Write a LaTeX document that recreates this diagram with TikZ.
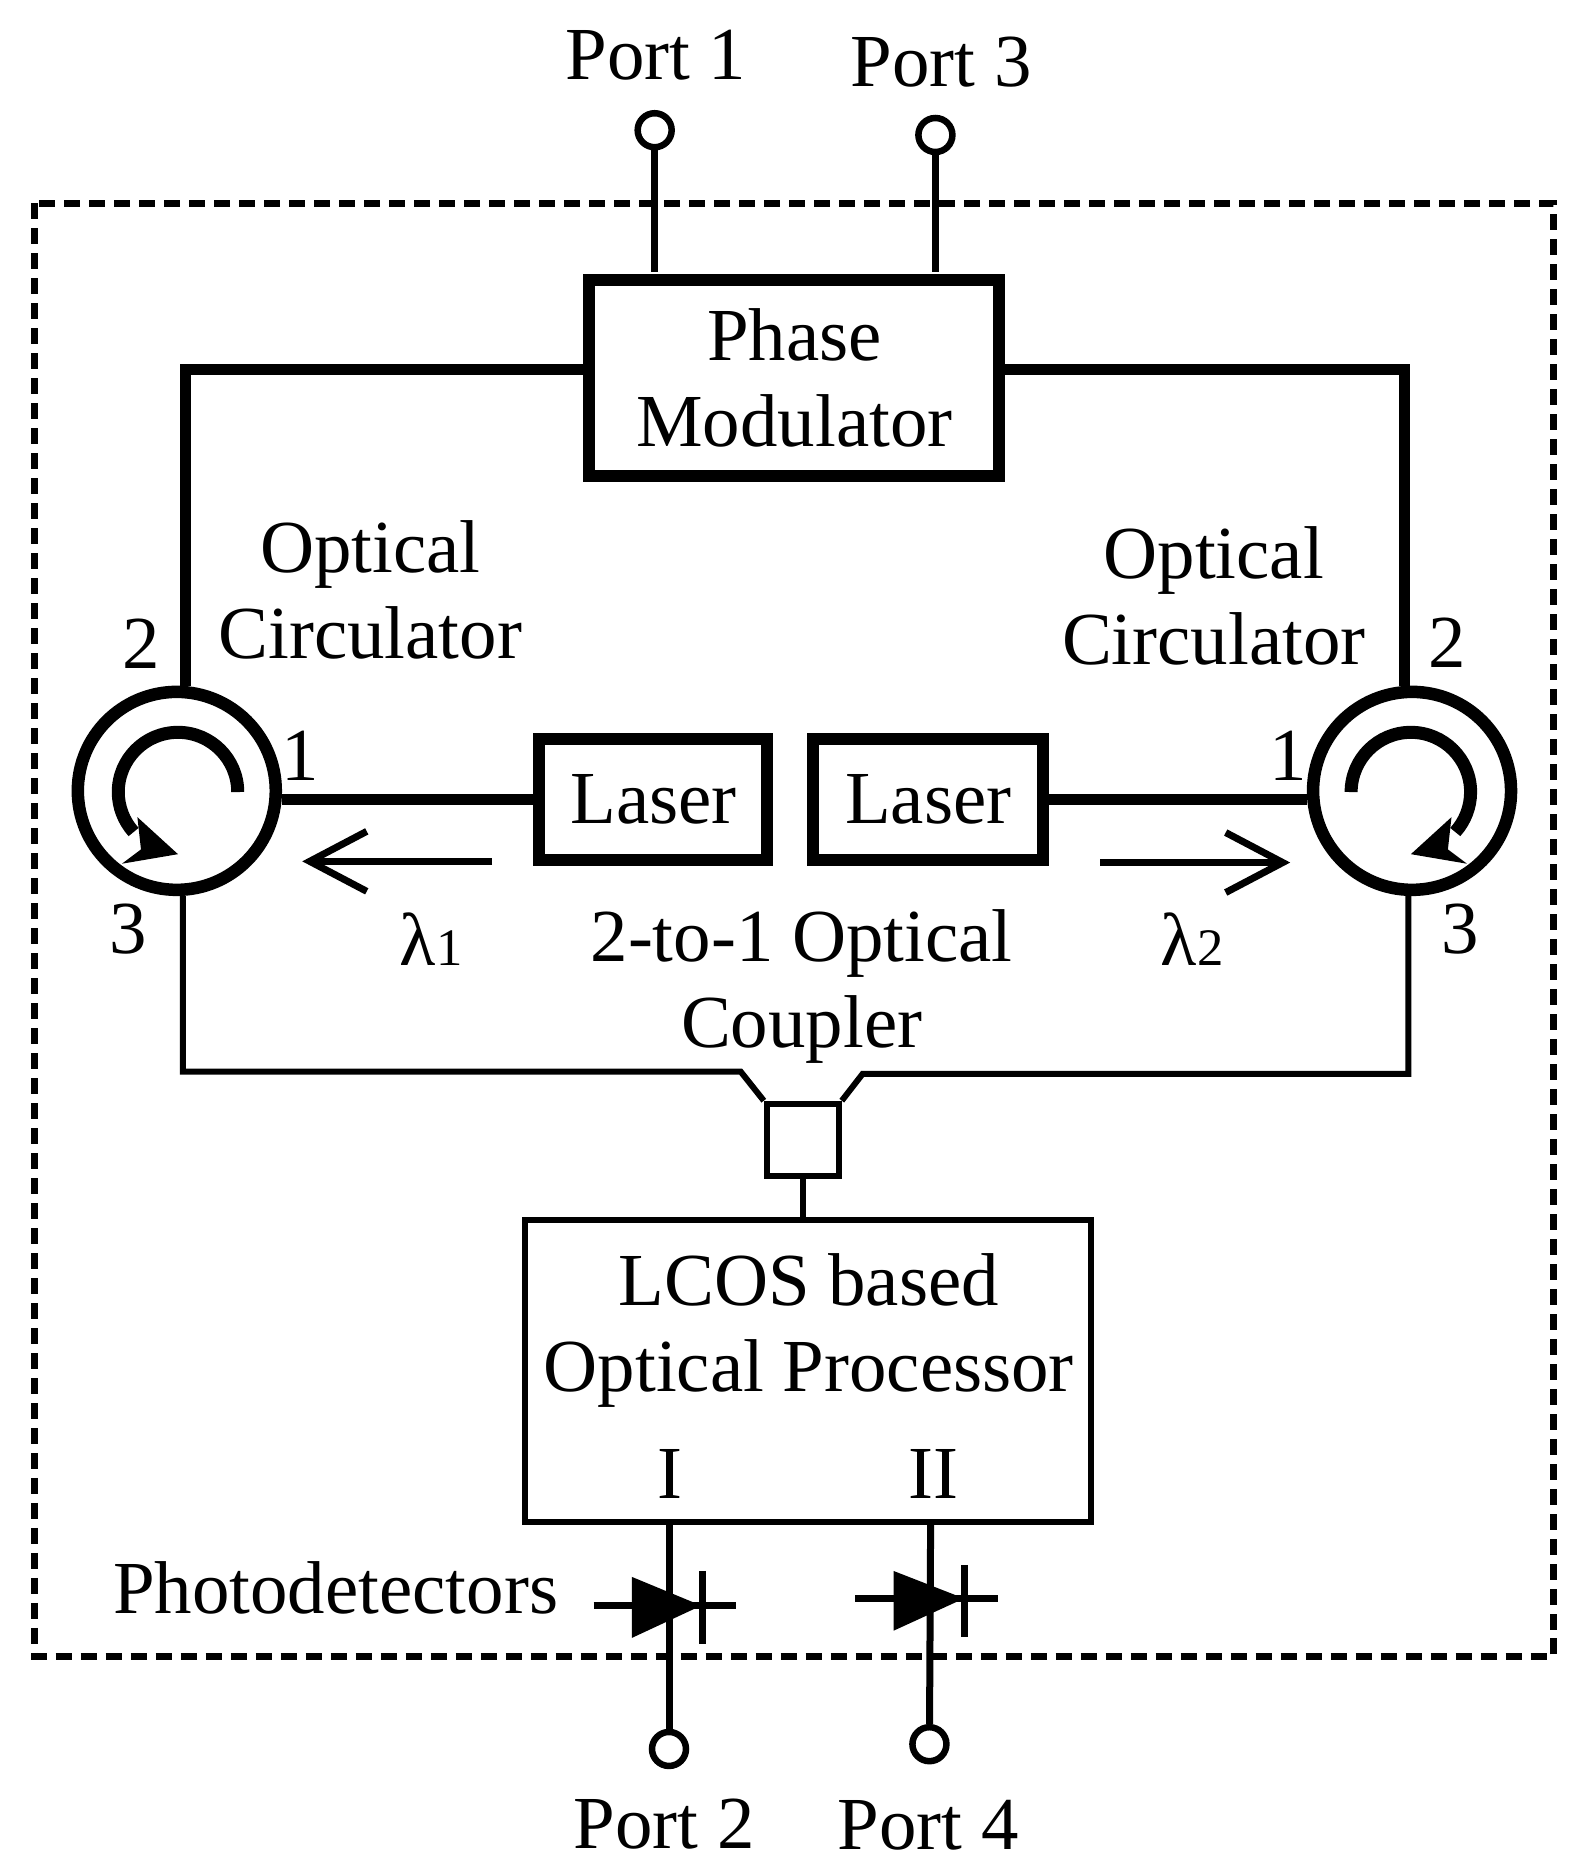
\documentclass[tikz,border=0pt]{standalone}
\usepackage{fontspec}
\setmainfont{Liberation Serif}
\usetikzlibrary{arrows.meta}
\newcommand{\lam}[1]{λ{\fontsize{15}{15}\selectfont #1}}
\begin{document}
\begin{tikzpicture}[x=0.01195cm,y=-0.01195cm,font=\fontsize{21.3}{24.5}\selectfont]
      \tikzstyle{heavybox} = [rectangle, line width=0.12cm, draw=black, inner sep=0pt, align=center]
      \tikzstyle{thinbox} = [rectangle, line width=0.06cm, draw=black, inner sep=0pt, align=center]
      \tikzstyle{ring} = [circle, line width=0.125cm, draw=black, minimum size=1.98cm, inner sep=0pt]
      \tikzstyle{port} = [circle, line width=0.065cm, draw=black, minimum size=0.34cm, inner sep=0pt]
      \tikzstyle{txt} = [inner sep=0pt, align=center]
      \tikzstyle{fiber} = [line width=0.11cm]
      \tikzstyle{thinfiber} = [line width=0.06cm]
      \tikzstyle{lead} = [line width=0.07cm]
      \tikzstyle{beam} = [line width=0.07cm,-{Straight Barb[length=0.57cm,width=0.6cm,line width=0.07cm]}]

      \useasboundingbox (0,0) rectangle (1323,1567);

      % outer frame
      \draw[line width=0.07cm, dash pattern=on 0.16cm off 0.09cm] (29,170) rectangle (1300,1387);

      % boxes
      \node (pm) [heavybox, minimum width=4.1cm, minimum height=1.96cm] at (665,316) {Phase\\Modulator};
      \node (laserl) [heavybox, minimum width=2.28cm, minimum height=1.21cm] at (547,669) {Laser};
      \node (laserr) [heavybox, minimum width=2.3cm, minimum height=1.21cm] at (777,669) {Laser};
      \node (coupler) [thinbox, minimum width=0.72cm, minimum height=0.72cm] at (672,954) {};
      \node (lcos) [thinbox, minimum width=5.66cm, minimum height=3.02cm] at (676,1148) {};

      \node (circl) [ring] at (148,662) {};
      \node (circr) [ring] at (1182,662) {};

      % ports
      \node (p1) [port] at (548,109) {};
      \node (p3) [port] at (783,113) {};
      \node (p2) [port] at (560,1464) {};
      \node (p4) [port] at (778,1460) {};
      \node (pt1) [txt] at (549,46) {Port 1};
      \node (pt3) [txt] at (788,52) {Port 3};
      \node (pt2) [txt] at (556,1527) {Port 2};
      \node (pt4) [txt] at (777,1528) {Port 4};

      % labels
      \node (oc1) [txt] at (310,494) {Optical\\Circulator};
      \node (oc2) [txt] at (1016,499) {Optical\\Circulator};
      \node (n2l) [txt] at (118,539) {2};
      \node (n1l) [txt] at (251,633) {1};
      \node (n3l) [txt] at (107,778) {3};
      \node (n2r) [txt] at (1211,538) {2};
      \node (n1r) [txt] at (1078,633) {1};
      \node (n3r) [txt] at (1222,778) {3};
      \node (lam1) [txt] at (361,786) {\lam{1}};
      \node (lam2) [txt] at (998,786) {\lam{2}};
      \node (coup) [txt] at (671,826) {2-to-1 Optical\\Coupler};
      \node (lcostxt) [txt] at (677,1114) {LCOS based\\Optical Processor};
      \node (out1) [txt] at (561,1234) {I};
      \node (out2) [txt] at (781,1234) {II};
      \node (pdtxt) [txt] at (281,1329) {Photodetectors};

      % free ends
      \coordinate (pmwl) at (489,309);
      \coordinate (pmwr) at (838,309);
      \coordinate (lcos1) at (560,1276);
      \coordinate (lcos2) at (779,1276);
      \coordinate (pm1) at (548,228);
      \coordinate (pm3) at (783,228);
      \coordinate (joinl) at (620,897);
      \coordinate (joinr) at (722,899);
      \coordinate (bl) at (153,897);
      \coordinate (br) at (1179,899);
      \coordinate (a1s) at (412,721);
      \coordinate (a1e) at (253,721);
      \coordinate (a2s) at (921,722);
      \coordinate (a2e) at (1080,722);

      % wires
      \draw [lead] (p1) -- (pm1);
      \draw [lead] (p3) -- (pm3);
      \draw [fiber] (pmwl) -| (circl.85);
      \draw [fiber] (pmwr) -| (circr.94);
      \draw [fiber] (laserl.west) -- (laserl.west -| circl.east);
      \draw [fiber] (laserr.east) -- (laserr.east -| circr.west);
      \draw [thinfiber] (bl |- circl.south) -- (bl) -- (joinl) -- (coupler.north west);
      \draw [thinfiber] (br |- circr.south) -- (br) -- (joinr) -- (coupler.north east);
      \draw [thinfiber] (coupler) -- (coupler |- lcos.north);
      \draw [lead] (lcos1) -- (p2);
      \draw [lead] (lcos2) -- (p4);

      \draw [beam] (a1s) -- (a1e);
      \draw [beam] (a2s) -- (a2e);

      % left circulator arrow
      \draw [line width=0.13cm] (199,663) arc (0:-222:50);
      \fill (149,715) -- (115,684) -- (118,711) -- (102,723) -- cycle;
      % right circulator arrow
      \draw [line width=0.13cm] (1131,663) arc (180:402:50);
      \fill (1181,715) -- (1215,684) -- (1212,711) -- (1228,723) -- cycle;

      % photodetectors
      \fill (529,1320) -- (587,1344) -- (529,1371) -- cycle;
      \draw [lead] (588,1315) -- (588,1376);
      \draw [lead] (497,1344) -- (616,1344);
      \fill (748,1315) -- (807,1338) -- (748,1365) -- cycle;
      \draw [lead] (807,1310) -- (807,1370);
      \draw [lead] (716,1338) -- (835,1338);
\end{tikzpicture}
\end{document}
